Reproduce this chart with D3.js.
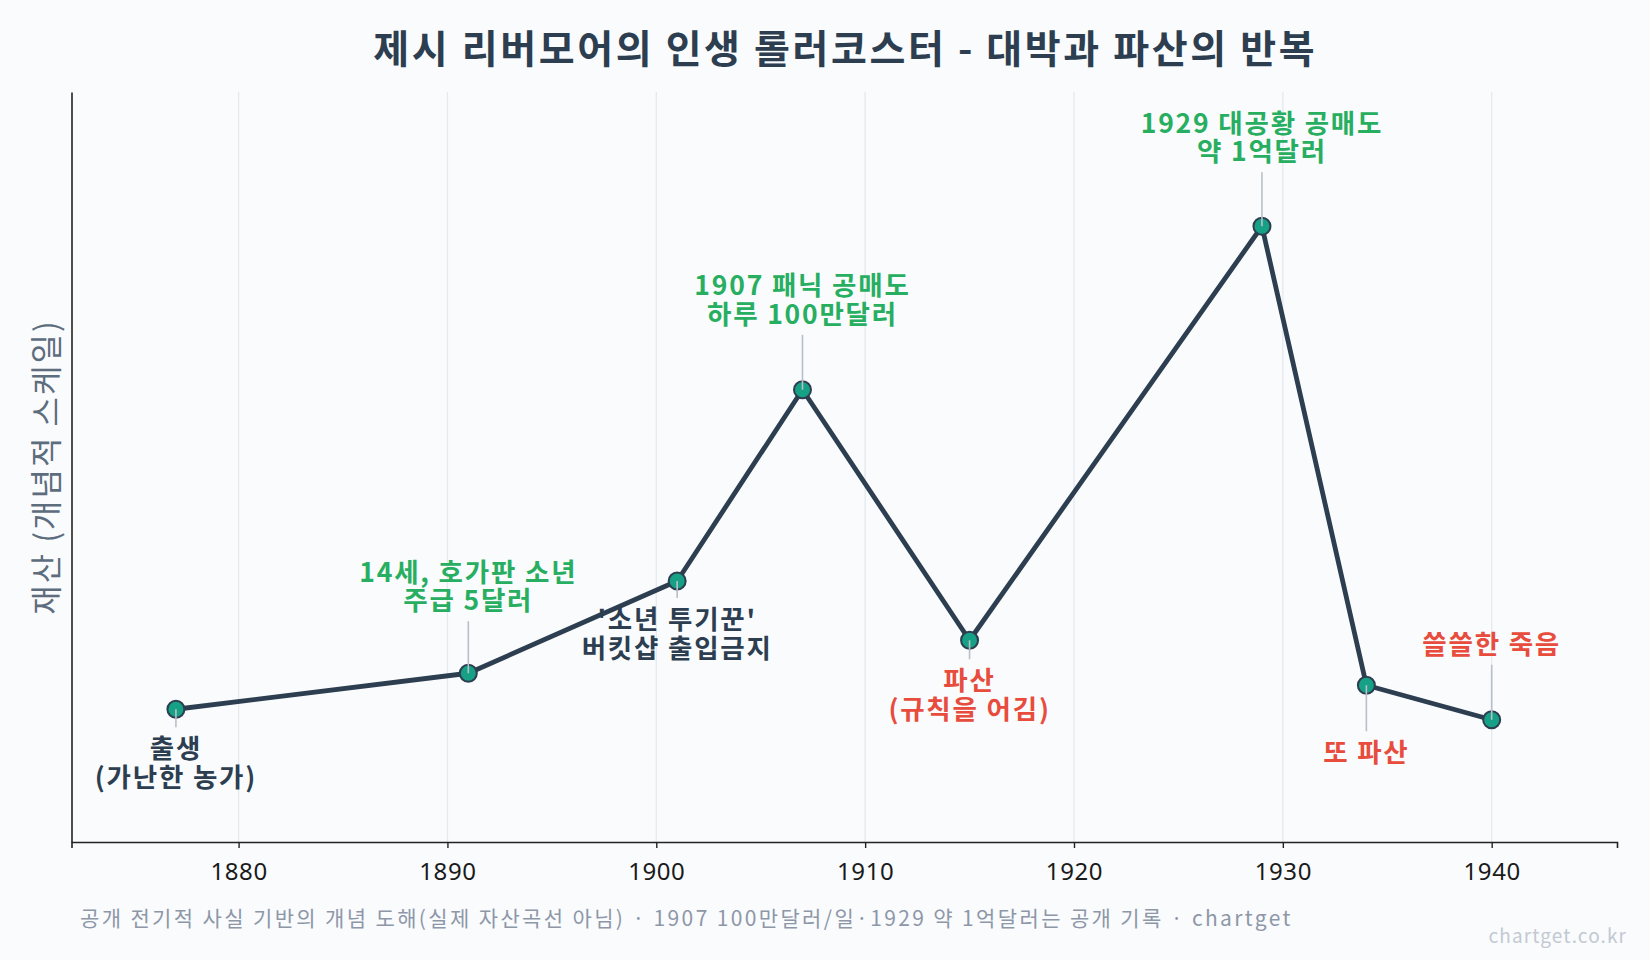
<!DOCTYPE html>
<html><head><meta charset="utf-8">
<script src="https://cdn.jsdelivr.net/npm/d3@7"></script>
<style>
body{margin:0;background:#f9fbfd;}
text{font-family:"Noto Sans CJK KR","Noto Sans",sans-serif;}
</style></head>
<body><svg id="c" width="1650" height="960"></svg>
<script>
// ---- data ----
const years  = [1877, 1891, 1901, 1907, 1915, 1929, 1934, 1940];
const wealth = [1.77, 2.25, 3.48, 6.03, 2.69, 8.21, 2.09, 1.63];
const eventLabels = [
  ["출생", "(가난한 농가)"],
  ["14세, 호가판 소년", "주급 5달러"],
  ["'소년 투기꾼'", "버킷샵 출입금지"],
  ["1907 패닉 공매도", "하루 100만달러"],
  ["파산", "(규칙을 어김)"],
  ["1929 대공황 공매도", "약 1억달러"],
  ["또 파산"],
  ["쓸쓸한 죽음"]
];
const labelSide = ["below", "above", "below", "above", "below", "above", "below", "above"];
const labelTone = ["neutral", "gain", "neutral", "gain", "loss", "gain", "loss", "loss"];
const xTicks = [1880, 1890, 1900, 1910, 1920, 1930, 1940];
const titleText = "제시 리버모어의 인생 롤러코스터 - 대박과 파산의 반복";
const yLabel = "재산 (개념적 스케일)";
const footText = "공개 전기적 사실 기반의 개념 도해(실제 자산곡선 아님) · 1907 100만달러/일·1929 약 1억달러는 공개 기록 · chartget";
const markText = "chartget.co.kr";

// ---- layout / style ----
const W = 1650, H = 960;
const M = {left: 71.5, right: 1617, top: 92, bottom: 842};
const leaderLen = [18, 52, 17, 55, 19, 54, 46, 55];
const toneColor = {neutral: "#2c3e50", gain: "#27ae60", loss: "#e74c3c"};
const annFont = 26.5, annLH = 28.5;

const svg = d3.select("#c");
svg.append("rect").attr("width", W).attr("height", H).attr("fill", "#f9fbfd");

const x = d3.scaleLinear().domain([1872, 1946]).range([M.left, M.right]);
const y = d3.scaleLinear().domain([0, 10]).range([M.bottom, M.top]);

// grid
svg.append("g").selectAll("line").data(xTicks).join("line")
  .attr("x1", d => x(d)).attr("x2", d => x(d))
  .attr("y1", M.top).attr("y2", M.bottom)
  .attr("stroke", "#e6e9ee").attr("stroke-width", 1.3);

// x axis
const xa = svg.append("g").attr("transform", `translate(0,${M.bottom})`)
  .call(d3.axisBottom(x).tickValues(xTicks).tickFormat(d3.format("d")).tickSize(6).tickPadding(15));
xa.select(".domain").attr("stroke", "#222").attr("stroke-width", 1.6);
xa.selectAll(".tick line").attr("stroke", "#222").attr("stroke-width", 1.4);
xa.selectAll(".tick text").attr("fill", "#1a1a1a").attr("font-size", 24)
  .attr("letter-spacing", 0.6)
  .style("font-family", '"Noto Sans","Noto Sans CJK KR",sans-serif');

// y axis (line only)
const ya = svg.append("g").attr("transform", `translate(${M.left},0)`)
  .call(d3.axisLeft(y).tickValues([]).tickSize(0));
ya.select(".domain").attr("stroke", "#222").attr("stroke-width", 1.6);

// y label
svg.append("text").attr("transform", `translate(44,${(M.top + M.bottom) / 2}) rotate(-90)`)
  .attr("text-anchor", "middle").attr("dominant-baseline", "central")
  .attr("font-size", 32).attr("letter-spacing", 2).attr("fill", "#5d6d7e").text(yLabel);

// title (centred over the plot area)
svg.append("text").attr("x", (M.left + M.right) / 2 + 1).attr("y", 46)
  .attr("text-anchor", "middle").attr("dominant-baseline", "central")
  .attr("font-size", 39).attr("letter-spacing", 2.6).attr("font-weight", 700)
  .attr("fill", "#2c3e50").text(titleText);

const pts = years.map((yr, i) => ({yr, v: wealth[i], i}));

// annotation texts
const ann = svg.append("g");
pts.forEach(p => {
  const px = x(p.yr), py = y(p.v);
  const lines = eventLabels[p.i];
  const L = leaderLen[p.i];
  const t = ann.append("text").attr("text-anchor", "middle")
    .attr("font-size", annFont).attr("font-weight", 700).attr("letter-spacing", 1.8)
    .attr("fill", toneColor[labelTone[p.i]]);
  let base;
  if (labelSide[p.i] === "above") {
    base = py - L - 11 - (lines.length - 1) * annLH;
  } else {
    base = py + L + 31;
  }
  lines.forEach((s, k) => {
    t.append("tspan").attr("x", px).attr("y", base + k * annLH).text(s);
  });
});

// line
svg.append("path").datum(pts)
  .attr("d", d3.line().x(d => x(d.yr)).y(d => y(d.v)))
  .attr("fill", "none").attr("stroke", "#2c3e50").attr("stroke-width", 4.8)
  .attr("stroke-linejoin", "round");

// points
svg.append("g").selectAll("circle").data(pts).join("circle")
  .attr("cx", d => x(d.yr)).attr("cy", d => y(d.v)).attr("r", 8.5)
  .attr("fill", "#16a085").attr("stroke", "#2c3e50").attr("stroke-width", 2);

// leaders
svg.append("g").selectAll("line").data(pts).join("line")
  .attr("x1", d => x(d.yr)).attr("x2", d => x(d.yr))
  .attr("y1", d => y(d.v))
  .attr("y2", d => y(d.v) + (labelSide[d.i] === "above" ? -1 : 1) * leaderLen[d.i])
  .attr("stroke", "#b8bfca").attr("stroke-width", 1.6);

// footer
svg.append("text").attr("x", 80).attr("y", 917).attr("dominant-baseline", "central")
  .attr("font-size", 21).attr("letter-spacing", 2.36).attr("fill", "#8e97a8").text(footText);
svg.append("text").attr("x", 1627).attr("y", 934).attr("text-anchor", "end")
  .attr("dominant-baseline", "central")
  .attr("font-size", 19).attr("letter-spacing", 1.1).attr("fill", "#c3c9d2").text(markText);
</script></body></html>
